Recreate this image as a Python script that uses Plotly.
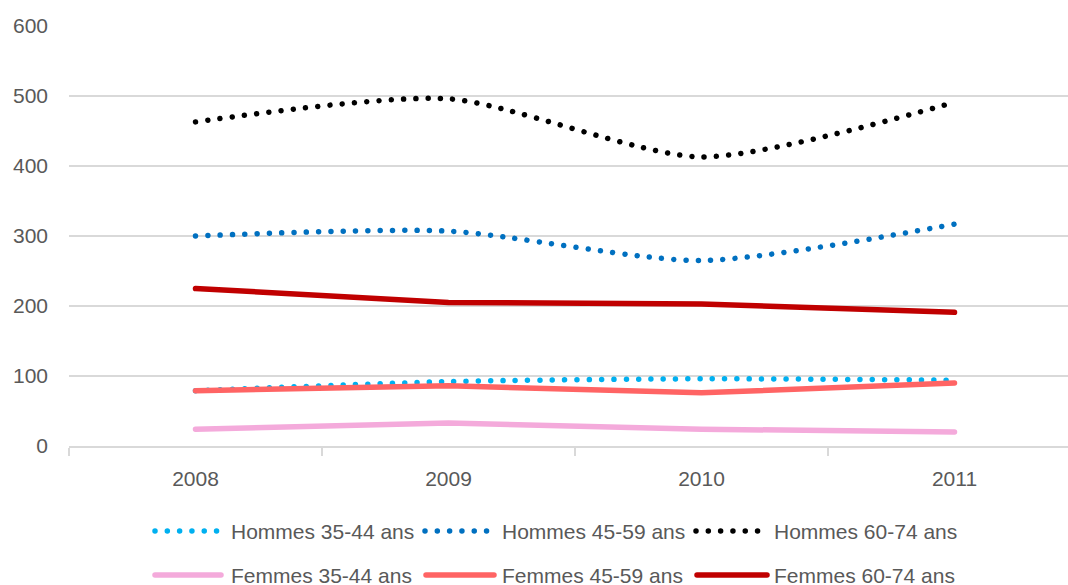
import plotly.graph_objects as go

years = ["2008", "2009", "2010", "2011"]
hommes_35_44 = [79, 92, 96, 94]
hommes_45_59 = [300, 307, 265, 317]
hommes_60_74 = [463, 496, 413, 491]
femmes_35_44 = [24, 33, 24, 20]
femmes_45_59 = [79, 86, 76, 90]
femmes_60_74 = [225, 205, 203, 191]

names = ["Hommes 35-44 ans", "Hommes 45-59 ans", "Hommes 60-74 ans",
         "Femmes 35-44 ans", "Femmes 45-59 ans", "Femmes 60-74 ans"]
values = [hommes_35_44, hommes_45_59, hommes_60_74,
          femmes_35_44, femmes_45_59, femmes_60_74]
colors = ["#00B0F0", "#0070C0", "#000000", "#F4AADB", "#FF6464", "#C00000"]
dotted = [True, True, True, False, False, False]

W, H = 1068, 585
L, R, T = 69, 0, 25
plot_bottom = 446
B = H - plot_bottom
pw, ph = W - L - R, plot_bottom - T
ytop = ph / 0.7          # 100 units = 70 px
cat_px = 253             # width of one category slot
xend = -0.5 + pw / cat_px

DOT = "5px,7.3px"

fig = go.Figure()
for n, v, c, d in zip(names, values, colors, dotted):
    if d:
        line = dict(color=c, width=5.5, dash=DOT, shape="spline", smoothing=0.7)
    else:
        line = dict(color=c, width=5.5, shape="linear")
    fig.add_trace(go.Scatter(x=years, y=v, mode="lines", name=n, line=line,
                             showlegend=False))

font = dict(family="Liberation Sans, Arial, sans-serif", size=21, color="#595959")

def px_to_paper(x, y):
    return (x - L) / pw, (plot_bottom - y) / ph

shapes = []
annotations = []
# (sample start, sample end, text x, row y) in pixels
legend_pos = [(155, 217, 229, 531), (425, 487, 500, 531), (696, 758, 772, 531),
              (155, 221, 229, 575), (426, 494, 500, 575), (697, 767, 772, 575)]
for (sx, ex, tx, yy), n, c, d in zip(legend_pos, names, colors, dotted):
    x0, y0 = px_to_paper(sx, yy)
    x1, _ = px_to_paper(ex, yy)
    shapes.append(dict(type="line", xref="paper", yref="paper", x0=x0, x1=x1, y0=y0, y1=y0,
                       line=dict(color=c, width=5.5, dash=DOT if d else "solid")))
    ax, ay = px_to_paper(tx, yy)
    annotations.append(dict(xref="paper", yref="paper", x=ax, y=ay, text=n, showarrow=False,
                            xanchor="left", yanchor="middle", font=font))

fig.update_layout(
    width=W, height=H,
    margin=dict(l=L, r=R, t=T, b=B),
    paper_bgcolor="white", plot_bgcolor="white",
    font=font,
    shapes=shapes, annotations=annotations,
    xaxis=dict(type="category", range=[-0.5, xend], tickson="boundaries",
               ticks="outside", ticklen=8, tickcolor="#D9D9D9", tickwidth=1.5,
               showgrid=False, showline=True, linecolor="#D9D9D9", linewidth=1.5,
               tickfont=font, ticklabelstandoff=13),
    yaxis=dict(range=[0, ytop], tickvals=[0, 100, 200, 300, 400, 500, 600],
               showgrid=True, gridcolor="#D9D9D9", gridwidth=1.5,
               zeroline=False, showline=False, ticks="", tickfont=font,
               ticklabelstandoff=20),
)

post = """
document.documentElement.style.overflow = 'hidden';
document.body.style.margin = '0';
document.body.style.overflow = 'hidden';
var gd = document.getElementById('{plot_id}');
function fixDots() {
  gd.querySelectorAll('path').forEach(function (p) {
    var da = p.style.strokeDasharray || '';
    if (da.indexOf('7.3px') !== -1) {
      p.style.strokeDasharray = '0.01px, 12.3px';
      p.style.strokeLinecap = 'round';
    } else if (p.closest('.scatterlayer') || p.closest('.shapelayer')) {
      p.style.strokeLinecap = 'round';
    }
  });
}
fixDots();
gd.on('plotly_afterplot', fixDots);
"""

fig.write_html("out.html", post_script=post, config={"displayModeBar": False})
